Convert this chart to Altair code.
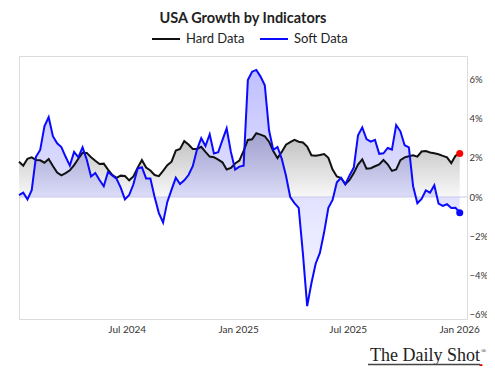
import altair as alt
import pandas as pd

# Weekly observations (Fridays), Jan 2024 - Jan 2026
dates = pd.date_range("2024-01-05", periods=105, freq="7D").strftime("%Y-%m-%d").tolist()

hard_values = [
    1.80, 1.60, 1.95, 2.02, 1.89, 1.87, 1.75, 1.94, 1.58, 1.25,
    1.10, 1.22, 1.36, 1.63, 1.95, 2.26, 2.25, 2.03, 1.85, 1.68,
    1.70, 1.40, 1.13, 0.98, 1.09, 1.07, 0.85, 1.05, 1.50, 1.88,
    1.50, 1.35, 1.12, 1.06, 1.33, 1.62, 1.80, 2.37, 2.45, 2.85,
    2.68, 2.45, 2.45, 2.56, 2.30, 2.06, 2.03, 1.91, 1.77, 1.40,
    1.48, 1.71, 1.86, 2.35, 2.91, 2.94, 3.25, 3.18, 3.10, 2.82,
    2.35, 1.98, 2.30, 2.67, 2.80, 2.91, 2.82, 2.78, 2.57, 2.13,
    2.10, 2.14, 2.19, 2.00, 1.40, 1.05, 0.97, 0.65, 0.87, 1.22,
    1.65, 1.92, 1.45, 1.47, 1.57, 1.66, 1.89, 1.67, 1.33, 1.40,
    1.88, 2.02, 2.08, 2.13, 2.06, 2.32, 2.34, 2.27, 2.23, 2.18,
    2.10, 2.02, 1.73, 2.10, 2.22,
]

soft_values = [
    0.10, 0.22, -0.12, 0.35, 2.05, 2.40, 3.60, 4.07, 3.10, 2.74,
    2.55, 2.05, 1.60, 2.30, 2.02, 2.53, 1.90, 1.05, 1.22, 0.87,
    0.55, 1.28, 1.10, 0.94, 0.48, -0.12, 0.10, 0.65, 1.45, 1.52,
    0.95, 0.95, 0.00, -0.82, -1.30, -0.25, 0.38, 0.98, 0.66, 0.85,
    1.12, 1.57, 2.42, 3.00, 2.60, 3.20, 2.22, 2.28, 2.90, 3.50,
    2.30, 1.40, 1.55, 1.60, 5.97, 6.39, 6.48, 6.14, 5.70, 3.40,
    2.40, 2.55, 1.95, 1.08, 0.00, -0.31, -0.55, -2.90, -5.56, -4.40,
    -3.40, -2.85, -1.80, -0.55, -0.15, 0.75, 0.98, 0.65, 1.10, 1.50,
    3.15, 3.55, 2.95, 2.82, 2.91, 2.20, 2.23, 2.50, 2.42, 3.67,
    3.35, 2.64, 2.53, 0.55, -0.32, -0.10, 0.34, 0.22, 0.60, -0.34,
    -0.45, -0.37, -0.56, -0.55, -0.80,
]

series_names = ["Hard Data", "Soft Data"]
series_colors = ["#111111", "#0a0aff"]
y_ticks = [-6, -4, -2, 0, 2, 4, 6]
x_ticks = [(2024, 7), (2025, 1), (2025, 7), (2026, 1)]

df = pd.DataFrame({"date": dates, "Hard Data": hard_values, "Soft Data": soft_values})
last = df.tail(1)

W, H = 448, 263
PAD = {"left": 11, "top": 48, "right": 20, "bottom": 47}

x_enc = alt.X(
    "date:T",
    title=None,
    scale=alt.Scale(
        type="utc",
        domain=[alt.DateTime(year=2024, month=1, date=5, utc=True),
                alt.DateTime(year=2026, month=1, date=14, utc=True)],
    ),
    axis=alt.Axis(
        values=[alt.DateTime(year=y, month=m, date=1, utc=True) for y, m in x_ticks],
        labelExpr="utcFormat(datum.value, '%b %Y')",
        ticks=False, tickSize=0, domain=False, grid=False,
        labelPadding=5, labelFontSize=10, labelColor="#333333", labelFont="Lato",
    ),
)

y_scale = alt.Scale(domain=[-6.22, 7.19], nice=False, zero=False)
y_axis = alt.Axis(
    orient="right", values=y_ticks, labelExpr="format(datum.value, 'd') + '%'",
    ticks=False, tickSize=0, domain=False, grid=False, labelPadding=2,
    labelFontSize=9.5, labelColor="#333333", labelFont="Lato",
)

base = alt.Chart(df).encode(x=x_enc)

hard_area = base.mark_area(
    color=alt.Gradient(
        gradient="linear",
        stops=[alt.GradientStop(color="#bdbdbd", offset=0),
               alt.GradientStop(color="#f8f8f8", offset=1)],
        x1=1, x2=1, y1=0, y2=1,
    ),
    interpolate="linear",
).encode(y=alt.Y("Hard Data:Q", scale=y_scale, axis=y_axis, title=None), y2=alt.datum(0))

soft_area = base.mark_area(
    color=alt.Gradient(
        gradient="linear",
        stops=[alt.GradientStop(color="rgba(80,80,255,0.36)", offset=0),
               alt.GradientStop(color="rgba(80,80,255,0.18)", offset=0.5),
               alt.GradientStop(color="rgba(80,80,255,0.03)", offset=1)],
        x1=1, x2=1, y1=0, y2=1,
    ),
).encode(y=alt.Y("Soft Data:Q"), y2=alt.datum(0))

zero_rule = alt.Chart(df.head(1)).mark_rule(color="#c9c9ea", strokeWidth=1).encode(
    y=alt.datum(0)
)

lines = base.transform_fold(series_names, as_=["series", "value"]).mark_line(
    strokeWidth=2
).encode(
    y=alt.Y("value:Q"),
    color=alt.Color(
        "series:N",
        scale=alt.Scale(domain=series_names, range=series_colors),
        legend=alt.Legend(
            orient="none", legendX=132, legendY=-32, direction="horizontal",
            title=None, labelFontSize=13, labelFont="Lato", labelColor="#222222",
            symbolType="stroke", symbolStrokeWidth=2, symbolSize=784,
            labelOffset=5, columnPadding=11, padding=0,
        ),
    ),
    detail="series:N",
)

hard_end = alt.Chart(last).mark_circle(color="#ff0000", size=50, opacity=1).encode(
    x="date:T", y=alt.Y("Hard Data:Q")
)
soft_end = alt.Chart(last).mark_circle(color="#0a0aff", size=50, opacity=1).encode(
    x="date:T", y=alt.Y("Soft Data:Q")
)

logo_df = pd.DataFrame({"t": ["The Daily Shot"]})
logo = alt.Chart(logo_df).mark_text(
    font="Liberation Serif", fontSize=18, align="right", baseline="alphabetic", color="#222222"
).encode(text="t:N", x=alt.value(461), y=alt.value(305))
logo_r = alt.Chart(pd.DataFrame({"t": ["®"]})).mark_text(
    font="Liberation Serif", fontSize=7, align="left", baseline="alphabetic", color="#222222"
).encode(text="t:N", x=alt.value(462), y=alt.value(297))
logo_line = alt.Chart(logo_df).mark_rule(color="#444444", strokeWidth=1.3).encode(
    x=alt.value(349), x2=alt.value(461), y=alt.value(308.5)
)
logo_dot = alt.Chart(logo_df).mark_circle(color="#e00000", size=10, opacity=1).encode(
    x=alt.value(462), y=alt.value(309.5)
)

chart = alt.layer(
    hard_area, soft_area, zero_rule, lines, hard_end, soft_end,
    logo, logo_r, logo_line, logo_dot,
).properties(
    width=W, height=H,
    title=alt.TitleParams(
        "USA Growth by Indicators", fontSize=14.5, font="Lato", fontWeight="bold",
        color="#222222", anchor="middle", frame="group", offset=-2,
    ),
    autosize=alt.AutoSizeParams(type="none"),
    padding=PAD,
    background="white",
).configure_view(stroke="#dcdcdc", strokeWidth=1)

chart.save("out.html", embed_options={"renderer": "svg", "actions": False})
